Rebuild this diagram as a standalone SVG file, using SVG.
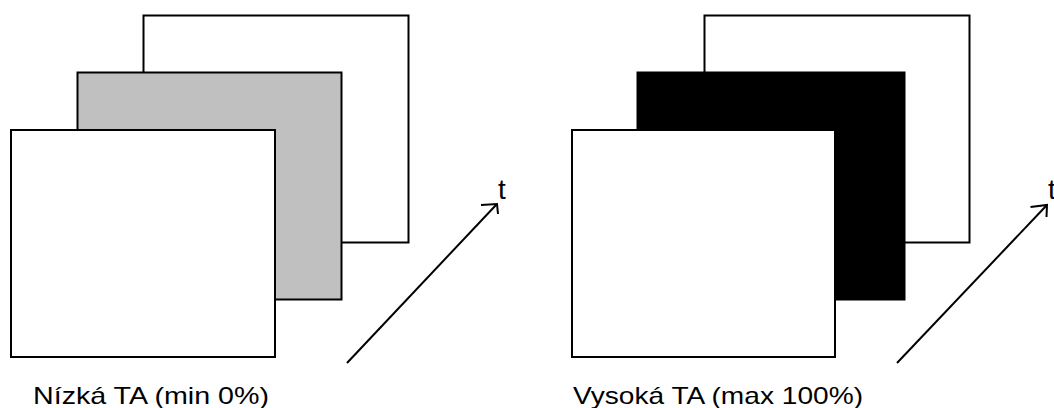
<svg xmlns="http://www.w3.org/2000/svg" width="1054" height="408" viewBox="0 0 1054 408">
<style>
.frame{stroke:#000;stroke-width:2;stroke-linejoin:miter}
.white{fill:#fff}
.grey{fill:#c0c0c0}
.black{fill:#000}
.axis{fill:none;stroke:#000;stroke-width:2}
.lbl{font-family:"Liberation Sans",Arial,sans-serif;font-size:24px;fill:#000}
.t{font-family:"Liberation Sans",Arial,sans-serif;font-size:28px;fill:#000}
</style>
<rect width="1054" height="408" fill="#fff"/>
<g id="low">
  <g id="low-back"><rect class="frame white" x="143.5" y="15.5" width="265" height="227"/></g>
  <g id="low-mid"><rect class="frame grey" x="77.5" y="72.5" width="264" height="227"/></g>
  <g id="low-front"><rect class="frame white" x="11" y="130" width="264" height="227"/></g>
  <text id="low-label" class="lbl" x="33" y="404" textLength="236" lengthAdjust="spacingAndGlyphs">Nízká TA (min 0%)</text>
</g>
<g id="high">
  <g id="high-back"><rect class="frame white" x="704.5" y="15.5" width="265" height="227"/></g>
  <g id="high-mid"><rect class="frame black" x="637.5" y="72.5" width="267" height="227"/></g>
  <g id="high-front"><rect class="frame white" x="572" y="130" width="263" height="227"/></g>
  <text id="high-label" class="lbl" x="573" y="404" textLength="290" lengthAdjust="spacingAndGlyphs">Vysoká TA (max 100%)</text>
</g>
<g id="connectors">
  <line class="axis" x1="347" y1="363" x2="496" y2="205"/>
  <polyline class="axis" points="481,205 497,204 498,214"/>
  <line class="axis" x1="897" y1="363" x2="1046" y2="206"/>
  <polyline class="axis" points="1030.5,207 1047,205 1046.5,217"/>
</g>
<text class="t" x="498" y="199">t</text>
<text class="t" x="1048" y="199">t</text>
</svg>
